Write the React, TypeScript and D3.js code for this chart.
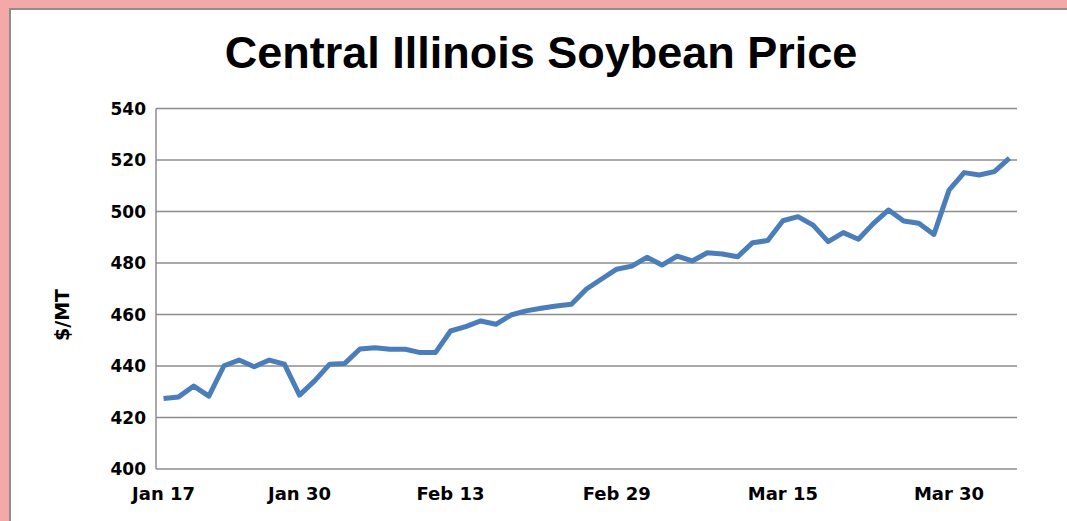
import React from "react"
import * as d3 from "d3"

const width = 1067
const height = 521
const margin = { left: 156, right: 1017, top: 108.5, bottom: 469 }

// trading days, Jan 17 .. Apr 5
const prices = [
  427.4, 428, 432.2, 428.3, 440.1, 442.3, 439.7, 442.3, 440.7, 428.7,
  434.2, 440.7, 441, 446.6, 447.1, 446.5, 446.5, 445.2, 445.2, 453.6,
  455.3, 457.5, 456.2, 459.8, 461.4, 462.4, 463.3, 464, 469.9, 473.8,
  477.6, 478.8, 482.2, 479.2, 482.7, 480.8, 484, 483.5, 482.4, 487.9,
  488.7, 496.4, 498, 494.7, 488.3, 491.8, 489.2, 495.4, 500.6, 496.3,
  495.4, 491.1, 508.3, 515.1, 514.2, 515.5, 520.7
]
const tickLabels = ["Jan 17", "Jan 30", "Feb 13", "Feb 29", "Mar 15", "Mar 30"]
const tickIndex = [0, 9, 19, 30, 41, 52]
const yTicks = [400, 420, 440, 460, 480, 500, 520, 540]

const x = d3.scalePoint<number>()
  .domain(d3.range(prices.length))
  .range([margin.left, margin.right])
  .padding(0.5)

const y = d3.scaleLinear().domain([400, 540]).range([margin.bottom, margin.top])

const line = d3.line<number>()
  .x((d, i) => x(i) as number)
  .y(d => y(d))

const font = "'DejaVu Sans', sans-serif"

const App = () => (
  <svg width={width} height={height} style={{ position: "absolute", left: 0, top: 0 }}>
    <rect width={width} height={height} fill="#f4a9a9" />
    <rect x={10} y={9} width={width} height={height} fill="#fff" stroke="#8e8e8e" strokeWidth={2} />
    <text x={541} y={68} textAnchor="middle" fontFamily="'Liberation Sans', Arial, sans-serif"
      fontWeight="bold" fontSize={45} fill="#000">Central Illinois Soybean Price</text>

    {yTicks.map(t => (
      <g key={t}>
        <line x1={margin.left} x2={margin.right} y1={y(t)} y2={y(t)} stroke="#8c8c8c" strokeWidth={1.5} />
        <text x={146} y={y(t)} dy="0.36em" textAnchor="end" fontFamily={font}
          fontWeight="bold" fontSize={17} fill="#000">{t}</text>
      </g>
    ))}
    <line x1={margin.left} x2={margin.left} y1={margin.top} y2={margin.bottom} stroke="#8c8c8c" strokeWidth={1.5} />

    {tickIndex.map((idx, i) => (
      <text key={idx} x={x(idx)} y={500} textAnchor="middle" fontFamily={font}
        fontWeight="bold" fontSize={18} fill="#000">{tickLabels[i]}</text>
    ))}

    <text transform="translate(69,315) rotate(-90)" textAnchor="middle" fontFamily={font}
      fontWeight="bold" fontSize={19} fill="#000">$/MT</text>

    <path d={line(prices) ?? ""} fill="none" stroke="#4a7ebb" strokeWidth={5} strokeLinejoin="round" />
  </svg>
)

export default App
